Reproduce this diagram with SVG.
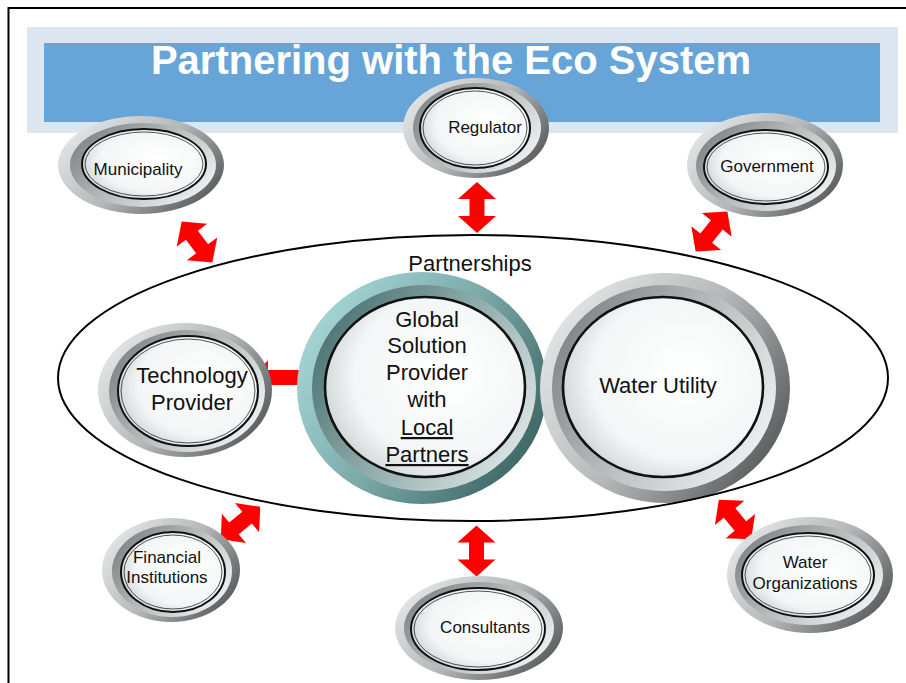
<svg xmlns="http://www.w3.org/2000/svg" width="906" height="683" viewBox="0 0 906 683">
  <defs>
    <!-- gray button ring: light on the left, dark on the right -->
    <linearGradient id="gOuter" x1="0" y1="0.2" x2="1" y2="0.8">
      <stop offset="0" stop-color="#e6e9e9"/>
      <stop offset="0.5" stop-color="#b4b8b9"/>
      <stop offset="1" stop-color="#505455"/>
    </linearGradient>
    <!-- inner bevel, reversed -->
    <linearGradient id="gBevel" x1="0" y1="0.2" x2="1" y2="0.8">
      <stop offset="0" stop-color="#7c8182"/>
      <stop offset="0.55" stop-color="#c0c4c5"/>
      <stop offset="1" stop-color="#f3f5f5"/>
    </linearGradient>
    <!-- teal ring of the central provider -->
    <linearGradient id="gOuterTeal" x1="0" y1="0.2" x2="1" y2="0.8">
      <stop offset="0" stop-color="#a9dad9"/>
      <stop offset="0.5" stop-color="#7aa9a8"/>
      <stop offset="1" stop-color="#375f5e"/>
    </linearGradient>
    <linearGradient id="gBevelTeal" x1="0" y1="0.2" x2="1" y2="0.8">
      <stop offset="0" stop-color="#47706f"/>
      <stop offset="0.55" stop-color="#98b2b2"/>
      <stop offset="1" stop-color="#e3eaea"/>
    </linearGradient>
    <!-- button face with an off-centre highlight -->
    <radialGradient id="gFace" cx="0.6" cy="0.45" r="0.64" fx="0.62" fy="0.42">
      <stop offset="0" stop-color="#ffffff"/>
      <stop offset="0.72" stop-color="#f3f6f6"/>
      <stop offset="1" stop-color="#ccd2d3"/>
    </radialGradient>
    <!-- red double-headed arrow, drawn along the x axis -->
    <path id="dbl" d="M-25.5 0 L-8.5 -19 L-8.5 -7.5 L8.5 -7.5 L8.5 -19 L25.5 0 L8.5 19 L8.5 7.5 L-8.5 7.5 L-8.5 19 Z"/>
  </defs>
  <style>
    .ro { fill: url(#gOuter); }
    .rb { fill: url(#gBevel); }
    .rot { fill: url(#gOuterTeal); }
    .rbt { fill: url(#gBevelTeal); }
    .rf { fill: url(#gFace); stroke: #111; stroke-width: 2; }
    .rfb { fill: url(#gFace); stroke: #111; stroke-width: 2.6; }
    .rl { fill: none; stroke: #2a2a2a; stroke-width: 0.8; }
    .lbl { font-family: "Liberation Sans", Arial, sans-serif; fill: #111; text-anchor: middle; }
    .s17 { font-size: 17px; }
    .s22 { font-size: 22px; }
    .arrow { fill: #ff0000; }
  </style>

  <rect width="906" height="683" fill="#ffffff"/>

  <!-- title band -->
  <g id="title">
    <rect x="27" y="27" width="871" height="106" fill="#dce6f1"/>
    <rect x="44" y="43" width="836" height="79" fill="#67a5d8"/>
    <text x="451" y="74" font-family="'Liberation Sans', Arial, sans-serif" font-size="40" font-weight="bold" fill="#ffffff" text-anchor="middle">Partnering with the Eco System</text>
  </g>

  <!-- frame -->
  <path d="M8.5 683 V8 H906" fill="none" stroke="#000" stroke-width="2"/>

  <!-- connectors -->
  <g id="connectors" class="arrow">
    <use href="#dbl" transform="translate(197 242) rotate(53.1)"/>
    <use href="#dbl" transform="translate(477 207.5) rotate(90)"/>
    <use href="#dbl" transform="translate(711.5 231.5) rotate(128.5)"/>
    <use href="#dbl" transform="translate(240.5 523) rotate(140.6)"/>
    <use href="#dbl" transform="translate(476.5 551) rotate(90)"/>
    <use href="#dbl" transform="translate(735 519.5) rotate(50.6)"/>
    <path d="M250 377.5 L268 360.5 L268 370 L304 370 L304 360.5 L322 377.5 L304 394.5 L304 385 L268 385 L268 394.5 Z"/>
  </g>

  <g id="municipality">
    <ellipse class="ro" cx="141" cy="165" rx="83" ry="49"/>
    <ellipse class="rb" cx="143" cy="165" rx="73" ry="42"/>
    <ellipse class="rf" cx="144" cy="164" rx="62" ry="35"/>
    <ellipse class="rl" cx="144" cy="164" rx="59" ry="32"/>
    <text class="lbl s17" x="138" y="175">Municipality</text>
  </g>

  <g id="regulator">
    <ellipse class="ro" cx="476" cy="128" rx="73" ry="50"/>
    <ellipse class="rb" cx="477" cy="128" rx="64" ry="45"/>
    <ellipse class="rf" cx="475" cy="128" rx="55" ry="40"/>
    <ellipse class="rl" cx="475" cy="128" rx="52" ry="37"/>
    <text class="lbl s17" x="485" y="133">Regulator</text>
  </g>

  <g id="government">
    <ellipse class="ro" cx="765" cy="165" rx="78" ry="52"/>
    <ellipse class="rb" cx="766" cy="166" rx="70" ry="45"/>
    <ellipse class="rf" cx="766" cy="167" rx="62" ry="37"/>
    <ellipse class="rl" cx="766" cy="167" rx="59" ry="34"/>
    <text class="lbl s17" x="767" y="172">Government</text>
  </g>

  <g id="technology-provider">
    <ellipse class="ro" cx="185" cy="390" rx="87" ry="67"/>
    <ellipse class="rb" cx="187" cy="391" rx="78" ry="61"/>
    <ellipse class="rf" cx="188" cy="391" rx="70" ry="55"/>
    <ellipse class="rl" cx="188" cy="391" rx="67" ry="52"/>
    <text class="lbl s22" x="192" y="383">Technology</text>
    <text class="lbl s22" x="192" y="410">Provider</text>
  </g>

  <g id="global-solution-provider">
    <ellipse class="rot" cx="422" cy="388" rx="125" ry="116"/>
    <ellipse class="rbt" cx="424" cy="388" rx="112" ry="103"/>
    <ellipse class="rfb" cx="425" cy="387" rx="100" ry="90"/>
    <g class="lbl s22">
      <text x="427" y="327">Global</text>
      <text x="427" y="353">Solution</text>
      <text x="427" y="380">Provider</text>
      <text x="427" y="407">with</text>
      <text x="427" y="435" text-decoration="underline">Local</text>
      <text x="427" y="462" text-decoration="underline">Partners</text>
    </g>
  </g>

  <g id="water-utility">
    <ellipse class="ro" cx="665" cy="388" rx="125" ry="115"/>
    <ellipse class="rb" cx="664" cy="388" rx="112" ry="103"/>
    <ellipse class="rfb" cx="663" cy="387" rx="100" ry="90"/>
    <text class="lbl s22" x="658" y="393">Water Utility</text>
  </g>

  <g id="financial-institutions">
    <ellipse class="ro" cx="171" cy="570" rx="69" ry="52"/>
    <ellipse class="rb" cx="172" cy="571" rx="60" ry="46"/>
    <ellipse class="rf" cx="173" cy="572" rx="52" ry="40"/>
    <ellipse class="rl" cx="173" cy="572" rx="49" ry="37"/>
    <text class="lbl s17" x="167" y="563">Financial</text>
    <text class="lbl s17" x="167" y="583">Institutions</text>
  </g>

  <g id="consultants">
    <ellipse class="ro" cx="479" cy="628" rx="84" ry="52"/>
    <ellipse class="rb" cx="479" cy="628" rx="75" ry="46"/>
    <ellipse class="rf" cx="478" cy="629" rx="67" ry="41"/>
    <ellipse class="rl" cx="478" cy="629" rx="64" ry="38"/>
    <text class="lbl s17" x="485" y="633">Consultants</text>
  </g>

  <g id="water-organizations">
    <ellipse class="ro" cx="810" cy="575" rx="83" ry="58"/>
    <ellipse class="rb" cx="809" cy="575" rx="74" ry="50"/>
    <ellipse class="rf" cx="808" cy="575" rx="66" ry="42"/>
    <ellipse class="rl" cx="808" cy="575" rx="63" ry="39"/>
    <text class="lbl s17" x="805" y="568">Water</text>
    <text class="lbl s17" x="805" y="589">Organizations</text>
  </g>

  <!-- partnership boundary -->
  <g id="partnerships">
    <ellipse cx="473" cy="378" rx="415" ry="143" fill="none" stroke="#000" stroke-width="2"/>
    <text class="lbl s22" x="470" y="271">Partnerships</text>
  </g>
</svg>
